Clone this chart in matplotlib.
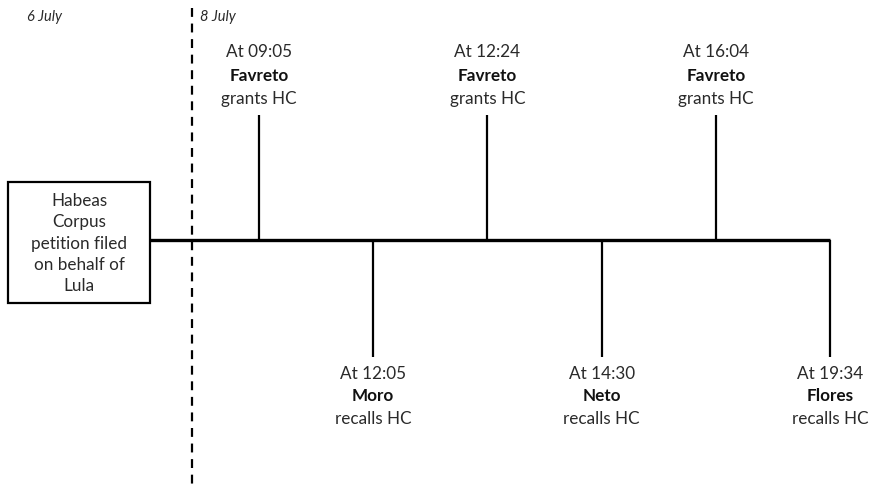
import matplotlib
matplotlib.use("Agg")
import matplotlib.pyplot as plt
from matplotlib.patches import Rectangle

plt.rcParams['font.family'] = ['Lato', 'DejaVu Sans']

# Data
times = ["09:05", "12:05", "12:24", "14:30", "16:04", "19:34"]
judges = ["Favreto", "Moro", "Favreto", "Neto", "Favreto", "Flores"]
actions = ["grants HC", "recalls HC", "grants HC", "recalls HC", "grants HC", "recalls HC"]
box_text = "Habeas\nCorpus\npetition filed\non behalf of\nLula"
day_labels = ["6 July", "8 July"]

W, H = 869, 484
fig = plt.figure(figsize=(W / 100, H / 100), dpi=100)
ax = fig.add_axes([0, 0, 1, 1])
ax.set_xlim(0, W)
ax.set_ylim(H, 0)
ax.axis('off')

# layout (pixels)
line_y = 240
x0, step = 259, 114.2
line_end = x0 + step * (len(times) - 1)
lw_main = 2.4
lw_stem = 1.6
fs = 12.3
tc = '#2a2a2a'

# box
bx0, bx1, by0, by1 = 8, 150, 182, 303
ax.add_patch(Rectangle((bx0, by0), bx1 - bx0, by1 - by0, fill=False, ec='black', lw=1.6))
ax.text((bx0 + bx1) / 2, (by0 + by1) / 2 + 1, box_text, ha='center', va='center',
        fontsize=fs, linespacing=1.42, color=tc)

# main line
ax.plot([bx1, line_end], [line_y, line_y], color='black', lw=lw_main, solid_capstyle='butt')

# dashed day divider
ax.plot([192, 192], [8, H], color='black', lw=1.6, ls=(0, (4, 3)))
ax.text(27, 17, day_labels[0], fontsize=10.5, style='italic', va='center', ha='left', color=tc)
ax.text(200, 17, day_labels[1], fontsize=10.5, style='italic', va='center', ha='left', color=tc)

for i, (t, j, a) in enumerate(zip(times, judges, actions)):
    x = x0 + step * i
    if i % 2 == 0:
        ax.plot([x, x], [115, line_y], color='black', lw=lw_stem, solid_capstyle='butt')
        ys = [52, 76, 99]
    else:
        ax.plot([x, x], [line_y, 357], color='black', lw=lw_stem, solid_capstyle='butt')
        ys = [374, 396, 419]
    ax.text(x, ys[0], f"At {t}", ha='center', va='center', fontsize=fs, color=tc)
    ax.text(x, ys[1], j, ha='center', va='center', fontsize=fs, fontweight='bold', color='#111111')
    ax.text(x, ys[2], a, ha='center', va='center', fontsize=fs, color=tc)

fig.savefig("out.png", dpi=100)
